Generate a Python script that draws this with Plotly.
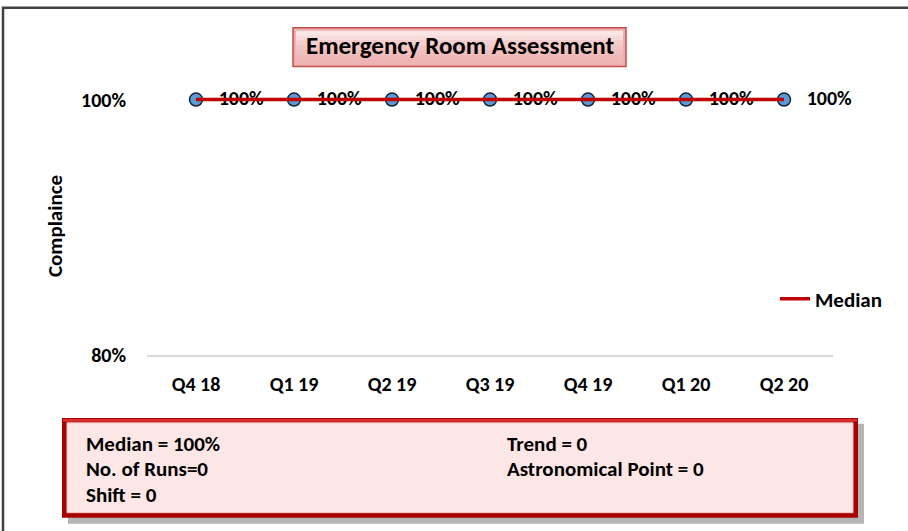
import plotly.graph_objects as go

# data
quarters = ["Q4 18", "Q1 19", "Q2 19", "Q3 19", "Q4 19", "Q1 20", "Q2 20"]
compliance = [1.0, 1.0, 1.0, 1.0, 1.0, 1.0, 1.0]
median = [1.0, 1.0, 1.0, 1.0, 1.0, 1.0, 1.0]

stats_left = ["Median = 100%", "No. of Runs=0", "Shift = 0"]
stats_right = ["Trend = 0", "Astronomical Point = 0"]

FONT = "Carlito, Lato, sans-serif"
W, H = 908, 531
# plot area in pixels
L, R, T, B = 147, 833, 96.5, 355


def px(x):
    return (x - L) / (R - L)


def py(y):
    return (B - y) / (B - T)


fig = go.Figure()

fig.add_trace(go.Scatter(
    x=quarters, y=compliance, mode="markers+text",
    text=["   " + f"{v:.0%}" for v in compliance],
    textposition="middle right",
    textfont=dict(family=FONT, size=20, color="black", weight="bold"),
    marker=dict(size=13, color="#5B9BD5", line=dict(color="#17233A", width=1.5)),
    cliponaxis=False, showlegend=False, hoverinfo="skip"))

fig.add_trace(go.Scatter(
    x=quarters, y=median, mode="lines", name="Median",
    line=dict(color="#C00000", width=3.5), cliponaxis=False))

shapes = []
# chart border
shapes.append(dict(type="rect", xref="paper", yref="paper",
                   x0=px(3), x1=px(W + 40), y0=py(7), y1=py(H + 40),
                   line=dict(color="#404040", width=2.5), layer="below"))
# title box with a rough vertical gradient
shapes.append(dict(type="rect", xref="paper", yref="paper",
                   x0=px(293), x1=px(626), y0=py(27), y1=py(66),
                   fillcolor="#EDB0B0", line=dict(color="#C0504D", width=1.5), layer="below"))
grad = ["#FBE6E6", "#F8DADA", "#F5CFCF", "#F3C6C6", "#F1BEBE", "#F0B9B9", "#EEB3B3"]
for i, c in enumerate(grad):
    shapes.append(dict(type="rect", xref="paper", yref="paper",
                       x0=px(296), x1=px(623), y0=py(30 + i * 4.8), y1=py(30 + (i + 1) * 4.8 + 0.5),
                       fillcolor=c, line=dict(width=0), layer="below"))
# stats box: shadow, frame, fill
shapes.append(dict(type="rect", xref="paper", yref="paper",
                   x0=px(68), x1=px(864), y0=py(424), y1=py(524),
                   fillcolor="rgba(90,90,90,0.45)", line=dict(width=0), layer="below"))
shapes.append(dict(type="rect", xref="paper", yref="paper",
                   x0=px(62), x1=px(858), y0=py(418), y1=py(518),
                   fillcolor="#A80000", line=dict(width=0), layer="below"))
shapes.append(dict(type="rect", xref="paper", yref="paper",
                   x0=px(63), x1=px(857), y0=py(419), y1=py(422),
                   fillcolor="#D83030", line=dict(width=0), layer="below"))
shapes.append(dict(type="rect", xref="paper", yref="paper",
                   x0=px(67), x1=px(853), y0=py(423), y1=py(513),
                   fillcolor="#FDE6E6", line=dict(color="#F5C9C9", width=1), layer="below"))
fig.update_layout(shapes=shapes)

annotations = [dict(
    text="<b>Emergency Room Assessment</b>", xref="paper", yref="paper",
    x=px(459.5), y=py(45), xanchor="center", yanchor="middle", showarrow=False,
    font=dict(family=FONT, size=25, color="black"))]
for i, s in enumerate(stats_left):
    annotations.append(dict(
        text=f"<b>{s}</b>", xref="paper", yref="paper",
        x=px(84), y=py(444 + 25.5 * i), xanchor="left", yanchor="middle",
        showarrow=False, font=dict(family=FONT, size=21, color="black")))
for i, s in enumerate(stats_right):
    annotations.append(dict(
        text=f"<b>{s}</b>", xref="paper", yref="paper",
        x=px(505), y=py(444 + 25.5 * i), xanchor="left", yanchor="middle",
        showarrow=False, font=dict(family=FONT, size=21, color="black")))
fig.update_layout(annotations=annotations)

fig.update_layout(
    width=W, height=H,
    margin=dict(l=L, r=W - R, t=T, b=H - B),
    paper_bgcolor="white", plot_bgcolor="white",
    font=dict(family=FONT, size=20, color="black", weight="bold"),
    legend=dict(x=px(775), y=py(299), xanchor="left", yanchor="middle",
                bgcolor="rgba(0,0,0,0)", font=dict(size=21, weight="bold")),
    xaxis=dict(range=[-0.5, len(quarters) - 0.5],
               showline=True, linecolor="#D9D9D9", linewidth=1.5,
               showgrid=False, zeroline=False,
               ticks="", ticklabelstandoff=10, tickfont=dict(size=20, weight="bold")),
    yaxis=dict(range=[0.8, 1.002], tickvals=[0.8, 1.0], tickformat=".0%",
               showgrid=False, zeroline=False,
               showline=False, ticks="", ticklabelstandoff=20,
               tickfont=dict(size=20, weight="bold"),
               title=dict(text="Complaince", standoff=12,
                          font=dict(size=21, weight="bold"))),
)

# drop the default page margin so the figure sits at the window's corner
fig.write_html("out.html", config={"displayModeBar": False},
               post_script="document.body.style.margin='0';")
